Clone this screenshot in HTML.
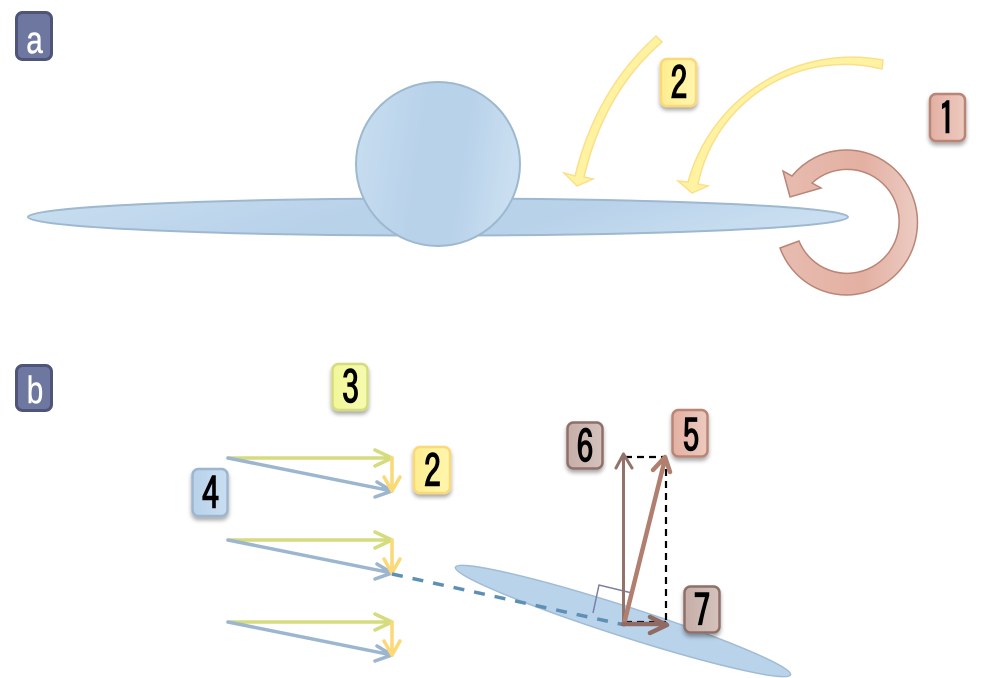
<!DOCTYPE html>
<html>
<head>
<meta charset="utf-8">
<style>
html,body{margin:0;padding:0;background:#fff;}
svg{display:block;}
text{font-family:"IPAGothic","Liberation Sans",sans-serif;text-anchor:middle;}
.n{font-size:38px;fill:#000;stroke:#000;stroke-width:1.300px;}
.l{font-family:"Liberation Sans",sans-serif;font-size:38px;fill:#fff;stroke:#fff;stroke-width:.5px;}
</style>
</head>
<body>
<svg width="988" height="678" viewBox="0 0 988 678" xmlns="http://www.w3.org/2000/svg">
<defs>
<linearGradient id="bl" x1="0" y1="0" x2="1" y2="0.15"><stop offset="0" stop-color="#c9def0"/><stop offset="0.45" stop-color="#b8d2ea"/><stop offset="0.7" stop-color="#b8d2ea"/><stop offset="1" stop-color="#c9def0"/></linearGradient>
<linearGradient id="pk" x1="0" y1="0" x2="1" y2="0"><stop offset="0" stop-color="#e7bcb0"/><stop offset="0.6" stop-color="#e3b0a2"/><stop offset="1" stop-color="#eccbc2"/></linearGradient>
<linearGradient id="b1" x1="0" y1="0" x2="1" y2="0"><stop offset="0" stop-color="#e3b0a2"/><stop offset="1" stop-color="#edcabf"/></linearGradient>
<linearGradient id="b2" x1="0" y1="0" x2="1" y2="0"><stop offset="0" stop-color="#ffed90"/><stop offset="1" stop-color="#fff6ae"/></linearGradient>
<linearGradient id="b3" x1="0" y1="0" x2="1" y2="0"><stop offset="0" stop-color="#f2f79a"/><stop offset="1" stop-color="#f6fab0"/></linearGradient>
<linearGradient id="b4" x1="0" y1="0" x2="1" y2="0"><stop offset="0" stop-color="#b8d2ea"/><stop offset="1" stop-color="#c9def0"/></linearGradient>
<linearGradient id="b6" x1="0" y1="0" x2="1" y2="0"><stop offset="0" stop-color="#c7aea8"/><stop offset="1" stop-color="#d4c2bc"/></linearGradient>
<filter id="sh" x="-30%" y="-30%" width="160%" height="160%"><feDropShadow dx="0" dy="3" stdDeviation="2" flood-color="#000" flood-opacity="0.35"/></filter>
</defs>

<!-- panel a -->
<rect x="16.500" y="12.500" width="35" height="47" rx="6" fill="#6d779f" stroke="#4e5578" stroke-width="3"/>
<text class="l" transform="translate(34.500,53) scale(.78,1)">a</text>

<ellipse cx="438" cy="217" rx="410" ry="18.500" fill="url(#bl)" stroke="#9db8cf" stroke-width="2"/>
<circle cx="438" cy="164" r="82" fill="url(#bl)" stroke="#9db8cf" stroke-width="2"/>

<path d="M656,36 Q596,90 575,176 L564,173 L577,186 L593,179 L584,177 Q604,92 662,42 Z" fill="#fff2a0" stroke="#fbdf8b" stroke-width="1.500"/>
<path d="M883,60 A170,170 0 0 0 688,182 L678,181 L692,193 L708,186 L698,184 A150,150 0 0 1 882,69 Z" fill="#fff2a0" stroke="#fbdf8b" stroke-width="1.500"/>
<path d="M792,176 A71,72.500 0 1 1 780,248 L799,241 A52,52 0 1 0 812,183 L821,188 L790,197 L783,171 Z" fill="url(#pk)" stroke="#b98576" stroke-width="1.500"/>

<g filter="url(#sh)"><rect x="661" y="59" width="35" height="47" rx="6" fill="url(#b2)" stroke="#fbd977" stroke-width="2.500"/></g>
<text class="n" transform="translate(679,100) scale(.88,1.170)">2</text>
<g filter="url(#sh)"><rect x="930" y="94" width="35" height="47" rx="6" fill="url(#b1)" stroke="#b98576" stroke-width="2.500"/></g>
<text class="n" transform="translate(947,135) scale(.88,1.170)">1</text>

<!-- panel b -->
<rect x="16.500" y="365.500" width="35" height="45" rx="6" fill="#6d779f" stroke="#4e5578" stroke-width="3"/>
<text class="l" transform="translate(35,403) scale(.78,1)">b</text>

<g fill="none" stroke-width="3.500" stroke-linecap="round" stroke-linejoin="round">
<g>
<path d="M228,458 L392,458 M375,450 L392,458 L375,466" stroke="#d5dc7e"/>
<path d="M228,458 L392,491 M377,482 L392,491 L375,497" stroke="#9db6d0"/>
<path d="M392,458 L392,491 M384,477 L392,491 L400,477" stroke="#fbd977"/>
</g>
<g>
<path d="M228,540 L392,540 M375,532 L392,540 L375,548" stroke="#d5dc7e"/>
<path d="M228,540 L392,573 M377,564 L392,573 L375,579" stroke="#9db6d0"/>
<path d="M392,540 L392,573 M384,559 L392,573 L400,559" stroke="#fbd977"/>
</g>
<g>
<path d="M228,622 L392,622 M375,614 L392,622 L375,630" stroke="#d5dc7e"/>
<path d="M228,622 L392,655 M377,646 L392,655 L375,661" stroke="#9db6d0"/>
<path d="M392,622 L392,655 M384,641 L392,655 L400,641" stroke="#fbd977"/>
</g>
</g>

<ellipse cx="623" cy="621" rx="176" ry="15" transform="rotate(17.800 623 621)" fill="#b9d3eb" stroke="#a0bcd4" stroke-width="1.500"/>

<path d="M392,574 L625,625" fill="none" stroke="#5e8fb5" stroke-width="3.500" stroke-dasharray="11,10"/>
<path d="M593,613 L599,585 L632,593" fill="none" stroke="#7a7fa8" stroke-width="1.500"/>

<path d="M625,457 L666,457 M666,457 L666,620 M625,622 L666,622" fill="none" stroke="#000" stroke-width="2.200" stroke-dasharray="7,5"/>

<g fill="none" stroke-linecap="round" stroke-linejoin="round">
<path d="M623.500,624 L623.500,456 M616,468 L623.500,454 L632,468" stroke="#927269" stroke-width="3"/>
<path d="M624,624 L665,459 M653,470 L665,457 L670,472" stroke="#b17f70" stroke-width="4.500"/>
<path d="M623,624 L666,624 M650,617 L667,625 L650,633" stroke="#8f6b63" stroke-width="4.500"/>
</g>

<g filter="url(#sh)"><rect x="332.500" y="364" width="35" height="46" rx="6" fill="url(#b3)" stroke="#d5dc7e" stroke-width="2.500"/></g>
<text class="n" transform="translate(350.500,404) scale(.88,1.170)">3</text>
<g filter="url(#sh)"><rect x="414" y="447" width="36" height="46" rx="6" fill="url(#b2)" stroke="#fbd977" stroke-width="2.500"/></g>
<text class="n" transform="translate(432.500,488) scale(.88,1.170)">2</text>
<g filter="url(#sh)"><rect x="192.500" y="469" width="35" height="47" rx="6" fill="url(#b4)" stroke="#9db6d0" stroke-width="2.500"/></g>
<text class="n" transform="translate(210.500,510) scale(.88,1.170)">4</text>
<g filter="url(#sh)"><rect x="567.500" y="422.500" width="35" height="46" rx="6" fill="url(#b6)" stroke="#8f6f68" stroke-width="2.500"/></g>
<text class="n" transform="translate(585,463) scale(.88,1.170)">6</text>
<g filter="url(#sh)"><rect x="672.500" y="410" width="35" height="46.500" rx="6" fill="url(#b1)" stroke="#b98576" stroke-width="2.500"/></g>
<text class="n" transform="translate(691,452) scale(.88,1.170)">5</text>
<g filter="url(#sh)"><rect x="684.500" y="586.500" width="35" height="46" rx="6" fill="url(#b6)" stroke="#8f6f68" stroke-width="2.500"/></g>
<text class="n" transform="translate(702,627) scale(.88,1.170)">7</text>
</svg>
</body>
</html>
